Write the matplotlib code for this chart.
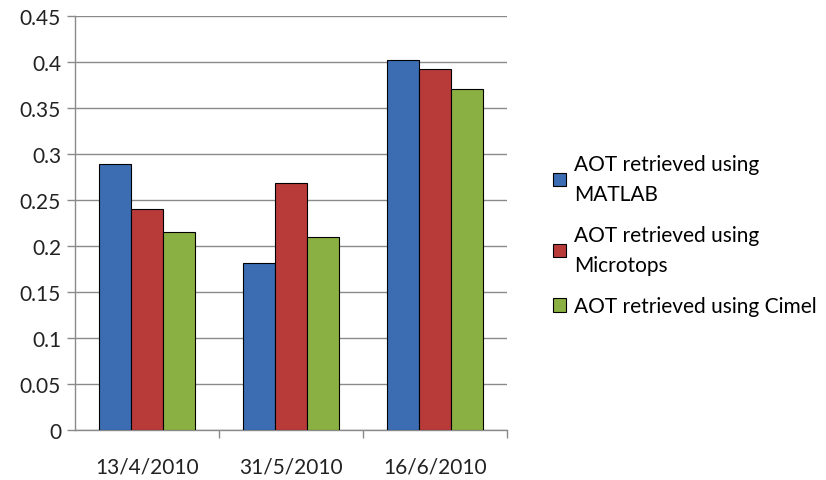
import matplotlib
matplotlib.use("Agg")
import matplotlib.pyplot as plt
import numpy as np

dates = ["13/4/2010", "31/5/2010", "16/6/2010"]
series_names = [
    "AOT retrieved using\nMATLAB",
    "AOT retrieved using\nMicrotops",
    "AOT retrieved using Cimel",
]
aot_matlab = [0.289, 0.182, 0.403]
aot_microtops = [0.240, 0.269, 0.393]
aot_cimel = [0.215, 0.210, 0.371]
y_ticks = [0, 0.05, 0.1, 0.15, 0.2, 0.25, 0.3, 0.35, 0.4, 0.45]
y_tick_labels = ["0", "0.05", "0.1", "0.15", "0.2", "0.25", "0.3", "0.35", "0.4", "0.45"]

colors = ["#3c6db3", "#b83b3a", "#8aaf42"]
grid_color = "#8a8a8a"

plt.rcParams["font.family"] = ["Lato", "DejaVu Sans"]

fig = plt.figure(figsize=(8.26, 4.81), dpi=100)
ax = fig.add_axes([75 / 826, 1 - 431 / 481, (507 - 75) / 826, (431 - 17.3) / 481])

x = np.arange(len(dates))
width = 0.222
handles = []
for i, (vals, name) in enumerate(zip([aot_matlab, aot_microtops, aot_cimel], series_names)):
    bars = ax.bar(x + (i - 1) * width, vals, width, color=colors[i], edgecolor="black",
                  linewidth=0.8, label=name, zorder=3)
    handles.append(bars)

ax.set_xlim(-0.5, 2.5)
ax.set_ylim(0, 0.45)
ax.set_yticks(y_ticks)
ax.set_yticklabels(y_tick_labels, fontsize=15, color="#222222")
ax.yaxis.grid(True, color=grid_color, linewidth=1.0, zorder=0)
ax.set_axisbelow(True)

ax.set_xticks(x)
ax.set_xticklabels(dates, fontsize=15, color="#222222")
ax.set_xticks([0.5, 1.5, 2.5], minor=True)
ax.tick_params(axis="x", which="major", length=0, pad=19)
ax.tick_params(axis="x", which="minor", length=6, color=grid_color, width=1.0)
ax.tick_params(axis="y", length=6, color=grid_color, width=1.0, pad=4)

for side in ["top", "right"]:
    ax.spines[side].set_visible(False)
for side in ["left", "bottom"]:
    ax.spines[side].set_color(grid_color)
    ax.spines[side].set_linewidth(1.0)

leg = fig.legend(handles=handles, labels=series_names, loc="center left",
                 bbox_to_anchor=(545 / 826, 1 - 236 / 481), frameon=False, fontsize=15,
                 handlelength=0.6, handleheight=0.6, handletextpad=0.4, labelspacing=1.0,
                 borderaxespad=0)
for t in leg.get_texts():
    t.set_linespacing(1.65)

fig.savefig("out.png", dpi=100)
